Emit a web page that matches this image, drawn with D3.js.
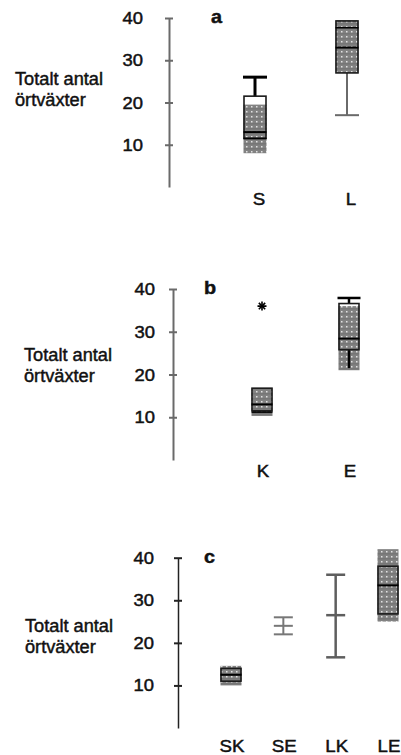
<!DOCTYPE html>
<html>
<head>
<meta charset="utf-8">
<script src="https://cdn.jsdelivr.net/npm/d3@7"></script>
<style>
  html, body { margin: 0; padding: 0; background: #fff; }
  svg { display: block; }
  text { font-family: "Liberation Sans", Arial, sans-serif; fill: #111; stroke: #111; stroke-width: 0.45px; }
</style>
</head>
<body>
<div id="chart"></div>
<script>
// ---- data ----
const yTicks = [10, 20, 30, 40];
const yLabelLines = ["Totalt antal", "örtväxter"];
const panelTitles = ["a", "b", "c"];

// panel a: S / L
const catsA = ["S", "L"];
const shadeLoA = [8, 27];
const shadeHiA = [19.5, 39.5];
const q1A = [11.5, 27];
const q3A = [21.5, 39.3];
const medianA = [13, 33];
const extraLineA = [11.5, 37.7];
const whiskerLoA = [null, 17];
const whiskerHiA = [26, null];

// panel b: K / E
const catsB = ["K", "E"];
const shadeLoB = [10.3, 21];
const shadeHiB = [16.8, 36];
const q1B = [11.5, 25.8];
const q3B = [16.8, 36.6];
const medianB = [13, 28.4];
const extraLineB = [11.2, null];
const whiskerLoB = [null, 21.5];
const whiskerHiB = [null, 37.9];
const outlierB = [36, null];

// panel c: SK / SE / LK / LE
const catsC = ["SK", "SE", "LK", "LE"];
const shadeLoC = [10, null, null, 25];
const shadeHiC = [14.6, null, null, 42];
const q1C = [11, null, null, 26.8];
const q3C = [14, null, null, 38];
const medianC = [12.5, 24, 26.5, 33.5];
const whiskerLoC = [null, 22, 16.6, null];
const whiskerHiC = [null, 26, 36, null];

const W = 401, H = 755;
const svg = d3.select("#chart").append("svg").attr("width", W).attr("height", H);

// dotted grey fill used by the boxes
const defs = svg.append("defs");
const pat = defs.append("pattern").attr("id", "dots")
  .attr("patternUnits", "userSpaceOnUse").attr("width", 5).attr("height", 5);
pat.append("rect").attr("width", 5).attr("height", 5).attr("fill", "#828282");
pat.append("rect").attr("x", 1).attr("y", 1).attr("width", 1.5).attr("height", 1.5).attr("fill", "#e2e2e2");
pat.append("rect").attr("x", 0).attr("y", 3.5).attr("width", 5).attr("height", 0.8).attr("fill", "#6a6a6a");

function label(g, x, y, str, size, weight, anchor, sx) {
  g.append("text")
    .attr("transform", `translate(${x},${y}) scale(${sx || 1.1},1)`)
    .attr("font-size", size)
    .attr("font-weight", weight || "normal")
    .attr("text-anchor", anchor || "start")
    .text(str);
}

function drawAxis(cfg) {
  const y = d3.scaleLinear().domain([0, 40]).range([cfg.y0, cfg.y40]);
  const g = svg.append("g");
  const ax = g.append("g").attr("transform", `translate(${cfg.axisX},0)`)
    .call(d3.axisLeft(y).tickValues(yTicks).tickSizeOuter(0).tickFormat(d3.format("d")));
  ax.select(".domain").attr("stroke", cfg.axisColor).attr("stroke-width", cfg.axisWidth);
  ax.selectAll(".tick line").attr("x1", -4).attr("x2", 4)
    .attr("stroke", cfg.axisColor).attr("stroke-width", 2);
  ax.selectAll(".tick text").remove();
  // tick numbers
  yTicks.forEach(t => label(g, cfg.tickRight, y(t) + 6, String(t), 16, "normal", "end", 1.15));
  // y title
  yLabelLines.forEach((s, i) => label(g, cfg.titleX, cfg.titleY + i * 21, s, 17.5, "normal", "start", 1.04));
  // panel letter
  label(g, cfg.letterX, y(40) + 5, cfg.letter, 18, "bold", "start", 1.1);
  return { y, g };
}

function drawBoxes(g, y, x, cats, o) {
  cats.forEach((c, i) => {
    const cx = x(c), hw = o.half;
    if (o.shadeLo && o.shadeLo[i] != null) {
      g.append("rect").attr("x", cx - hw).attr("width", hw * 2)
        .attr("y", y(o.shadeHi[i])).attr("height", y(o.shadeLo[i]) - y(o.shadeHi[i]))
        .attr("fill", "url(#dots)");
    }
    // whiskers
    const wColor = o.whiskerColor[i], wWidth = o.whiskerWidth[i];
    if (o.whiskerHi[i] != null) {
      const from = o.q3 && o.q3[i] != null ? o.q3[i] : o.median[i];
      g.append("line").attr("x1", cx).attr("x2", cx).attr("y1", y(from)).attr("y2", y(o.whiskerHi[i]))
        .attr("stroke", wColor).attr("stroke-width", wWidth);
      g.append("line").attr("x1", cx - o.cap).attr("x2", cx + o.cap)
        .attr("y1", y(o.whiskerHi[i])).attr("y2", y(o.whiskerHi[i]))
        .attr("stroke", wColor).attr("stroke-width", wWidth);
    }
    if (o.whiskerLo[i] != null) {
      const from = o.q1 && o.q1[i] != null ? o.q1[i] : o.median[i];
      g.append("line").attr("x1", cx).attr("x2", cx).attr("y1", y(from)).attr("y2", y(o.whiskerLo[i]))
        .attr("stroke", wColor).attr("stroke-width", wWidth);
      if (!(o.noLowCap && o.noLowCap[i])) {
        g.append("line").attr("x1", cx - o.cap).attr("x2", cx + o.cap)
          .attr("y1", y(o.whiskerLo[i])).attr("y2", y(o.whiskerLo[i]))
          .attr("stroke", wColor).attr("stroke-width", wWidth);
      }
    }
    if (o.q1 && o.q1[i] != null) {
      g.append("rect").attr("x", cx - hw + 0.5).attr("width", hw * 2 - 1)
        .attr("y", y(o.q3[i])).attr("height", y(o.q1[i]) - y(o.q3[i]))
        .attr("fill", "none").attr("stroke", "#1a1a1a").attr("stroke-width", 1.6);
      g.append("line").attr("x1", cx - hw).attr("x2", cx + hw)
        .attr("y1", y(o.median[i])).attr("y2", y(o.median[i]))
        .attr("stroke", "#000").attr("stroke-width", 2);
    } else if (o.median[i] != null) {
      g.append("line").attr("x1", cx - o.cap).attr("x2", cx + o.cap)
        .attr("y1", y(o.median[i])).attr("y2", y(o.median[i]))
        .attr("stroke", wColor).attr("stroke-width", wWidth);
    }
    if (o.extra && o.extra[i] != null) {
      g.append("line").attr("x1", cx - hw).attr("x2", cx + hw)
        .attr("y1", y(o.extra[i])).attr("y2", y(o.extra[i]))
        .attr("stroke", "#000").attr("stroke-width", 1.6);
    }
    if (o.outlier && o.outlier[i] != null) {
      // eight-armed star marking the outlier
      [0, 45].forEach(rot => {
        g.append("path")
          .attr("d", "M-4.5,0H4.5M0,-4.5V4.5")
          .attr("transform", `translate(${cx},${y(o.outlier[i])}) rotate(${rot})`)
          .attr("fill", "none").attr("stroke", "#000").attr("stroke-width", 1.6);
      });
    }
    label(g, cx + o.labelDx, o.labelY, c, 17, "normal", "middle", 1.1);
  });
}

// ---- panel a ----
{
  const { y, g } = drawAxis({ y0: 187, y40: 18, axisX: 169, axisColor: "#6a6a6a", axisWidth: 2,
    tickRight: 143, titleX: 15, titleY: 85, letterX: 211, letter: panelTitles[0] });
  const x = d3.scalePoint().domain(catsA).range([255, 347]);
  drawBoxes(g, y, x, catsA, { half: 11.5, cap: 12, shadeLo: shadeLoA, shadeHi: shadeHiA,
    q1: q1A, q3: q3A, median: medianA, extra: extraLineA, whiskerLo: whiskerLoA, whiskerHi: whiskerHiA,
    whiskerColor: ["#000", "#6a6a6a"], whiskerWidth: [3, 2], labelDx: 4, labelY: 205 });
}

// ---- panel b ----
{
  const { y, g } = drawAxis({ y0: 460, y40: 289, axisX: 173, axisColor: "#6a6a6a", axisWidth: 2,
    tickRight: 155, titleX: 24, titleY: 361, letterX: 204, letter: panelTitles[1] });
  const x = d3.scalePoint().domain(catsB).range([262, 349]);
  drawBoxes(g, y, x, catsB, { half: 10.5, cap: 11.5, shadeLo: shadeLoB, shadeHi: shadeHiB,
    q1: q1B, q3: q3B, median: medianB, extra: extraLineB, outlier: outlierB,
    whiskerLo: whiskerLoB, whiskerHi: whiskerHiB, noLowCap: [false, true],
    whiskerColor: ["#000", "#000"], whiskerWidth: [2, 2.5], labelDx: 1, labelY: 477 });
}

// ---- panel c ----
{
  const { y, g } = drawAxis({ y0: 728, y40: 557.7, axisX: 178, axisColor: "#222", axisWidth: 1.5,
    tickRight: 154, titleX: 25, titleY: 632, letterX: 204, letter: panelTitles[2] });
  const x = d3.scalePoint().domain(catsC).range([231, 388]);
  drawBoxes(g, y, x, catsC, { half: 10.5, cap: 9.5, shadeLo: shadeLoC, shadeHi: shadeHiC,
    q1: q1C, q3: q3C, median: medianC, whiskerLo: whiskerLoC, whiskerHi: whiskerHiC,
    whiskerColor: ["#666", "#777", "#5e5e5e", "#666"], whiskerWidth: [2, 2, 2.5, 2],
    labelDx: 1, labelY: 752 });
}
</script>
</body>
</html>
